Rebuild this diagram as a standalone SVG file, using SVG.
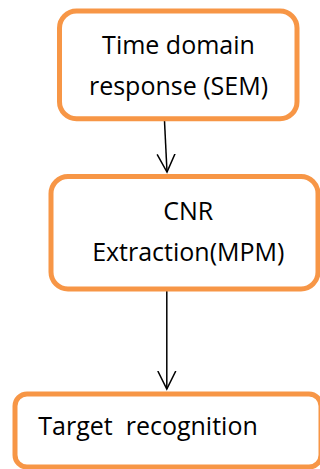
<svg xmlns="http://www.w3.org/2000/svg" width="320" height="469" viewBox="0 0 320 469">
  <style>
    .box { fill: #ffffff; stroke: #F79646; stroke-width: 5; }
    .lbl { font-family: "Open Sans", "Liberation Sans", sans-serif; font-size: 25px; fill: #000000; }
    .mid { text-anchor: middle; }
    .conn { stroke: #000000; stroke-width: 1.5; fill: none; }
  </style>
  <defs>
    <marker id="vhead" viewBox="0 0 20 20" refX="18" refY="10" markerWidth="20" markerHeight="20" markerUnits="userSpaceOnUse" orient="auto">
      <path d="M0,1 L18,10 L0,19" fill="none" stroke="#000000" stroke-width="1.5"/>
    </marker>
  </defs>
  <rect width="320" height="469" fill="#ffffff"/>
  <g id="connectors">
    <line class="conn" x1="164.5" y1="121" x2="167" y2="172" marker-end="url(#vhead)"/>
    <line class="conn" x1="166.8" y1="291" x2="166.8" y2="389" marker-end="url(#vhead)"/>
  </g>
  <g id="node-sem">
    <rect class="box" x="59.5" y="11" width="237.5" height="107.7" rx="17" ry="17"/>
    <text class="lbl mid" x="178.5" y="54">Time domain</text>
    <text class="lbl mid" x="178.5" y="95">response (SEM)</text>
  </g>
  <g id="node-cnr">
    <rect class="box" x="51" y="176.5" width="267" height="112.5" rx="17" ry="17"/>
    <text class="lbl mid" x="188.3" y="220">CNR</text>
    <text class="lbl mid" x="188.3" y="261">Extraction(MPM)</text>
  </g>
  <g id="node-target">
    <rect class="box" x="15" y="394" width="306" height="73" rx="12" ry="12"/>
    <text class="lbl" x="38.3" y="435" xml:space="preserve">Target  recognition</text>
  </g>
</svg>
